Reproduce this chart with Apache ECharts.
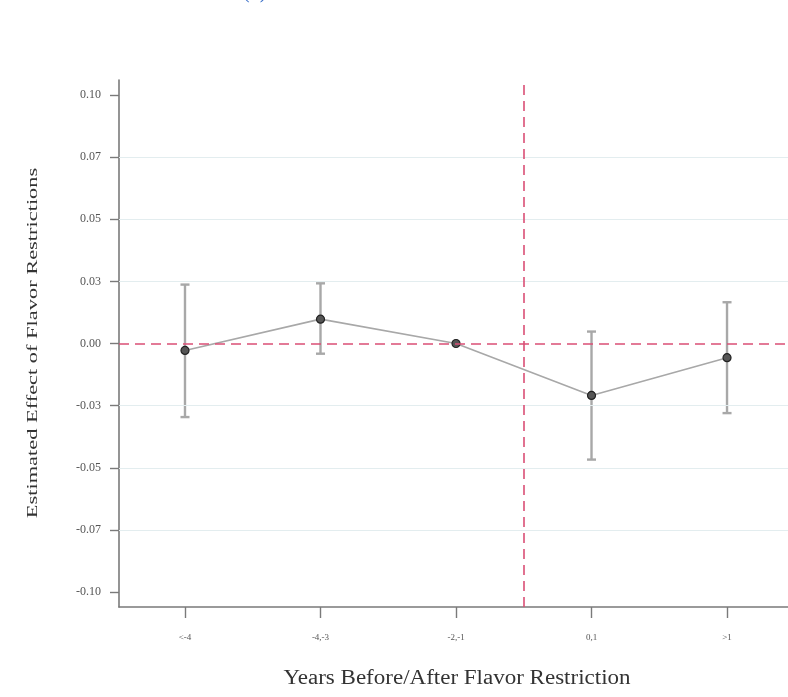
<!DOCTYPE html>
<html>
<head>
<meta charset="utf-8">
<script src="https://cdn.jsdelivr.net/npm/echarts@6/dist/echarts.min.js"></script>
<style>
  html, body { margin: 0; padding: 0; background: #fff; }
  #chart { width: 788px; height: 697px; }
</style>
</head>
<body>
<div id="chart"></div>
<script>
// event-study categories (years relative to restriction)
var xLabels = ['<-4', '-4,-3', '-2,-1', '0,1', '>1'];
var xPos = [1, 2, 3, 4, 5];
var estimates = [-0.0028, 0.0098, 0.0, -0.0209, -0.0057];
var ciLow = [-0.0296, -0.0041, 0.0, -0.0467, -0.0280];
var ciHigh = [0.0237, 0.0242, 0.0, 0.0048, 0.0166];

var yTickValues = [-0.1, -0.075, -0.05, -0.025, 0, 0.025, 0.05, 0.075, 0.1];
var yTickLabels = ['-0.10', '-0.07', '-0.05', '-0.03', '0.00', '0.03', '0.05', '0.07', '0.10'];
var gridValues = [-0.075, -0.05, -0.025, 0.025, 0.05, 0.075];
var treatLine = 3.5;

var axisColor = '#7a7a7a';
var lineGray = '#a8a8a8';
var refRed = '#da4f76';
var serif = '"Liberation Serif", "DejaVu Serif", serif';

var pointData = xPos.map(function (x, i) { return [x, estimates[i]]; });
var barData = xPos.map(function (x, i) { return [x, ciLow[i], ciHigh[i]]; });

function renderErrorBar(params, api) {
    var lo = api.value(1), hi = api.value(2);
    if (lo === hi) return;
    var top = api.coord([api.value(0), hi]);
    var bot = api.coord([api.value(0), lo]);
    var w = 4.5;
    var style = { stroke: lineGray, lineWidth: 2.4 };
    return {
        type: 'group',
        children: [
            { type: 'line', shape: { x1: top[0], y1: top[1], x2: bot[0], y2: bot[1] }, style: style },
            { type: 'line', shape: { x1: top[0] - w, y1: top[1], x2: top[0] + w, y2: top[1] }, style: style },
            { type: 'line', shape: { x1: bot[0] - w, y1: bot[1], x2: bot[0] + w, y2: bot[1] }, style: style }
        ]
    };
}

var option = {
    backgroundColor: '#fff',
    animation: false,
    grid: { left: 119, right: 0, top: 80, bottom: 90 },
    xAxis: {
        type: 'value',
        min: 0.513,
        max: 5.45,
        axisLine: { onZero: false, lineStyle: { color: axisColor, width: 1.6 } },
        axisTick: { customValues: xPos, length: 11, lineStyle: { color: axisColor, width: 1.4 } },
        axisLabel: {
            customValues: xPos,
            formatter: function (v) { return xLabels[Math.round(v) - 1]; },
            fontFamily: serif, fontSize: 9, color: '#555', margin: 26
        },
        splitLine: { show: false }
    },
    yAxis: {
        type: 'value',
        min: -0.106,
        max: 0.106,
        axisLine: { show: true, onZero: false, lineStyle: { color: axisColor, width: 1.6 } },
        axisTick: { show: true, customValues: yTickValues, length: 9, lineStyle: { color: axisColor, width: 1.4 } },
        axisLabel: {
            customValues: yTickValues,
            formatter: function (v) {
                var i = yTickValues.findIndex(function (t) { return Math.abs(t - v) < 1e-6; });
                return i >= 0 ? yTickLabels[i] : '';
            },
            fontFamily: serif, fontSize: 12, color: '#555', margin: 18
        },
        splitLine: { show: false }
    },
    graphic: [
        {
            type: 'text', x: 457, y: 679, scaleX: 1.15,
            style: {
                text: 'Years Before/After Flavor Restriction', font: '20px ' + serif, fill: '#333',
                textAlign: 'center', textVerticalAlign: 'middle'
            }
        },
        {
            type: 'text', x: 33, y: 343, rotation: Math.PI / 2, scaleX: 1.6,
            style: {
                text: 'Estimated Effect of Flavor Restrictions', font: '14px ' + serif, fill: '#333',
                textAlign: 'center', textVerticalAlign: 'middle'
            }
        },
        {
            type: 'text', left: 243, top: -17,
            style: { text: '(b)', font: '20px ' + serif, fill: '#3a6fc8' }
        }
    ],
    series: [
        {
            // light grid lines plus the red reference lines
            type: 'line',
            data: [],
            silent: true,
            z: 1,
            markLine: {
                silent: true,
                symbol: 'none',
                precision: 4,
                label: { show: false },
                data: gridValues.map(function (v) {
                    return { yAxis: v, lineStyle: { color: '#e3edef', width: 1.2, type: 'solid' } };
                }).concat([
                    { yAxis: 0, lineStyle: { color: refRed, width: 1.6, type: [10, 6] } },
                    { xAxis: treatLine, lineStyle: { color: refRed, width: 1.6, type: [10, 6] } }
                ])
            }
        },
        {
            type: 'custom',
            renderItem: renderErrorBar,
            data: barData,
            z: 3
        },
        {
            type: 'line',
            data: pointData,
            symbol: 'circle',
            symbolSize: 8,
            lineStyle: { color: lineGray, width: 1.6 },
            itemStyle: { color: '#555', borderColor: '#222', borderWidth: 1.2 },
            z: 4
        }
    ]
};

var myChart = echarts.init(document.getElementById('chart'));
myChart.setOption(option);
</script>
</body>
</html>
